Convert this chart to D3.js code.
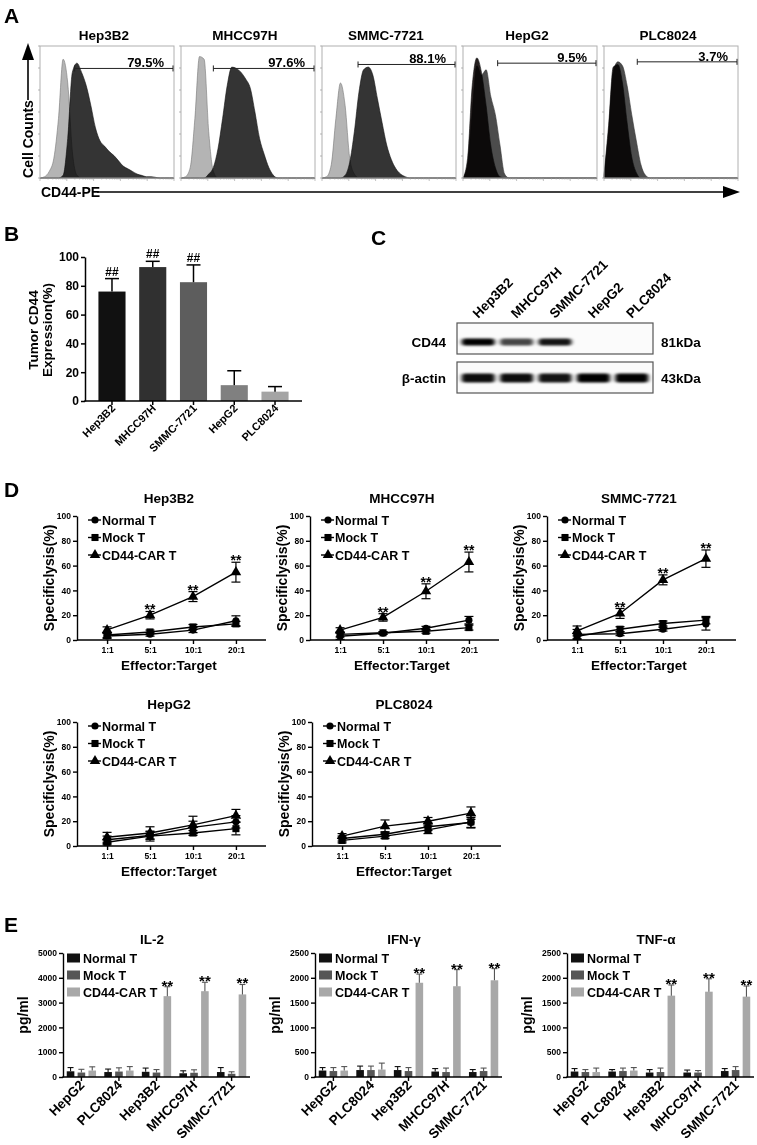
<!DOCTYPE html>
<html><head><meta charset="utf-8">
<script src="https://cdn.jsdelivr.net/npm/d3@7"></script>
<style>
body{margin:0;background:#fff;}
svg{display:block;}
</style></head><body>
<script>
// ---------------- DATA ----------------
// Panel A: flow cytometry (counts per fluorescence bin, % of max)
const flowLines = ["Hep3B2","MHCC97H","SMMC-7721","HepG2","PLC8024"];
const flowPct = ["79.5%","97.6%","88.1%","9.5%","3.7%"];
const flowGateStart = [7.5, 7.0, 7.8, 7.5, 7.2];   // bin where gate begins
const flowGateLevel = [83, 83, 86, 87, 88];        // count level of the gate marker
const flowBack = [
  [0,1,5,15,45,90,72,20,2,0],
  [0,1,8,45,92,90,35,5,0],
  [0,1,10,45,72,55,15,3,0],
  [0,10,50,85,78,82,62,48,25,3,0],
  [2,35,80,88,85,70,48,28,10,2,0]
];
const flowFront = [
  [0,0,0,0,0,2,30,80,87,80,70,55,38,28,24,20,17,13,9,7,5,3,2,1,1,0.5,0],
  [0,0,0,0,0,0,3,8,22,45,70,84,83,80,75,68,50,30,18,8,2,0],
  [0,0,0,0,0,2,12,35,65,82,84,78,60,42,25,14,7,3,1,0],
  [0,15,70,91,80,55,25,8,1,0],
  [2,40,84,86,72,42,16,4,0]
];
// Panel B
const bCats = ["Hep3B2","MHCC97H","SMMC-7721","HepG2","PLC8024"];
const bVals = [76, 93, 82.5, 11, 6.5];
const bErr = [9, 4, 12, 10, 3.5];
const bSig = ["##","##","##","",""];
// Panel C (western blot band intensities)
const blotLanes = ["Hep3B2","MHCC97H","SMMC-7721","HepG2","PLC8024"];
const cd44Intensity = [1.0, 0.72, 0.92, 0, 0];
const actinIntensity = [0.95, 0.95, 0.92, 1.0, 1.0];
// Panel D (specific lysis %)
const ratios = ["1:1","5:1","10:1","20:1"];
const lysisTargets = ["Hep3B2","MHCC97H","SMMC-7721","HepG2","PLC8024"];
const lysisNormal = [[3.2,4.6,8,15.5],[3,5.5,9.5,16],[4.5,5,8.7,13],[5,8.5,15,19.5],[6,9.5,15.5,19]];
const lysisNormalErr = [[2,1.5,2,4],[2.5,1,1.5,3],[4,1.5,1.5,5],[3,3,5,5],[2,2,3,4]];
const lysisMock = [[4,6.5,10.5,13],[4.5,5.8,7,10],[3,8.7,13.3,16],[3,8,10.5,14],[4.5,8,13,19.5]];
const lysisMockErr = [[2,1.5,2,2],[2,1,1.5,2],[2,2,2,3],[2,4,2,5],[2,2,3,5]];
const lysisCar = [[8.1,20,35,54.7],[7.9,18.2,39.3,62.9],[7.3,21.4,48.5,65.6],[7,10.5,17,24.5],[8,16,20,26.5]];
const lysisCarErr = [[2.5,3,4,8],[2,3,6,8],[4,4,4,7],[4,5,7,5],[2,5,3,5]];
const lysisSig = [["","**","**","**"],["","**","**","**"],["","**","**","**"],["","","",""],["","","",""]];
const lysisSeries = ["Normal T","Mock T","CD44-CAR T"];
// Panel E (cytokines, pg/ml)
const cytoCats = ["HepG2","PLC8024","Hep3B2","MHCC97H","SMMC-7721"];
const cytoNames = ["IL-2","IFN-γ","TNF-α"];
const cytoMax = [5000, 2500, 2500];
const cytoTicks = [[0,1000,2000,3000,4000,5000],[0,500,1000,1500,2000,2500],[0,500,1000,1500,2000,2500]];
const il2Normal = [230,200,210,150,200],  il2NormalErr = [150,120,150,100,180];
const il2Mock   = [180,220,180,170,130],  il2MockErr   = [130,150,120,120,80];
const il2Car    = [260,260,3260,3460,3330], il2CarErr  = [150,160,380,360,400];
const ifnNormal = [130,140,140,110,100],  ifnNormalErr = [60,80,70,60,50];
const ifnMock   = [120,140,120,100,120],  ifnMockErr   = [70,80,70,80,60];
const ifnCar    = [130,150,1900,1830,1950], ifnCarErr  = [80,130,175,335,235];
const tnfNormal = [110,110,90,90,120],    tnfNormalErr = [60,40,60,50,50];
const tnfMock   = [100,120,100,90,140],   tnfMockErr   = [50,60,80,40,70];
const tnfCar    = [100,130,1640,1720,1620], tnfCarErr  = [80,60,215,260,215];
const cytoSig = ["","","**","**","**"];

// ---------------- DRAWING ----------------
const FONT = '"Liberation Sans", Arial, Helvetica, sans-serif';
const svg = d3.select("body").append("svg").attr("width",757).attr("height",1145)
  .attr("font-family",FONT).attr("font-weight","bold");
svg.append("rect").attr("width",757).attr("height",1145).attr("fill","#fff");
const defs = svg.append("defs");
defs.append("filter").attr("id","blur").attr("x","-30%").attr("y","-100%").attr("width","160%").attr("height","300%")
  .append("feGaussianBlur").attr("stdDeviation","2.2 1.3");

// Panel letters
const letters = [["A",4,23],["B",4,241],["C",371,245],["D",4,497],["E",4,932]];
svg.selectAll("text.letter").data(letters).join("text").attr("class","letter")
  .attr("x",d=>d[1]).attr("y",d=>d[2]).attr("font-size",21).text(d=>d[0]);

// ---- Panel A ----
(function(){
  const NB = 30, flowW = 134, top = 46, bot = 178;
  flowLines.forEach((name,i)=>{
    const left = 40 + i*141;
    const g = svg.append("g");
    const x = d3.scaleLinear().domain([0,NB-1]).range([left,left+flowW]);
    const y = d3.scaleLinear().domain([0,100]).range([bot,top]);
    const pad = a => a.concat(d3.range(NB-a.length).map(()=>0));
    const area = d3.area().x((d,j)=>x(j)).y0(bot).y1(d=>y(d)).curve(d3.curveMonotoneX);
    const strong = i<3;
    g.append("path").attr("d",area(pad(flowBack[i])))
      .attr("fill",strong?"#b4b4b4":"#4c4c4c").attr("stroke",strong?"#777":"#333").attr("stroke-width",0.6);
    g.append("path").attr("d",area(pad(flowFront[i])))
      .attr("fill",strong?"#343434":"#262020").attr("stroke","#111").attr("stroke-width",0.6)
      .style("mix-blend-mode","multiply");
    g.append("rect").attr("x",left).attr("y",top).attr("width",flowW).attr("height",bot-top)
      .attr("fill","none").attr("stroke","#b0b0b0").attr("stroke-width",1);
    // axis ticks
    const yt = d3.scaleLinear().domain([0,6]).range([bot,top]);
    g.selectAll("line.yt").data(d3.range(0,7)).join("line")
      .attr("x1",left-2).attr("x2",left).attr("y1",d=>yt(d)).attr("y2",d=>yt(d)).attr("stroke","#999").attr("stroke-width",0.7);
    const lx = d3.scaleLog().domain([1,1e5]).range([left,left+flowW]);
    g.selectAll("line.xt").data(lx.ticks()).join("line")
      .attr("x1",d=>lx(d)).attr("x2",d=>lx(d)).attr("y1",bot).attr("y2",d=>Math.log10(d)%1===0?bot+3:bot+1.5)
      .attr("stroke","#999").attr("stroke-width",0.6);
    // gate
    const gy = y(flowGateLevel[i]), gx1 = x(flowGateStart[i]), gx2 = x(NB-1)-1;
    g.append("line").attr("x1",gx1).attr("x2",gx2).attr("y1",gy).attr("y2",gy).attr("stroke","#222").attr("stroke-width",1);
    [gx1,gx2].forEach(v=>g.append("line").attr("x1",v).attr("x2",v).attr("y1",gy-3).attr("y2",gy+3).attr("stroke","#222").attr("stroke-width",1));
    g.append("text").attr("x",gx2-9).attr("y",gy-1).attr("text-anchor","end").attr("font-size",13).text(flowPct[i]);
    g.append("text").attr("x",left+flowW/2-3).attr("y",40).attr("text-anchor","middle").attr("font-size",13.5).text(name);
  });
  // Cell Counts arrow
  svg.append("line").attr("x1",28).attr("x2",28).attr("y1",58).attr("y2",100).attr("stroke","#000").attr("stroke-width",1.6);
  svg.append("path").attr("d","M28,43 L22,60 L34,60 Z").attr("fill","#000");
  svg.append("text").attr("transform","translate(33,139) rotate(-90)").attr("text-anchor","middle").attr("font-size",14).text("Cell Counts");
  // CD44-PE arrow
  svg.append("text").attr("x",41).attr("y",197).attr("font-size",14).text("CD44-PE");
  svg.append("line").attr("x1",97).attr("x2",726).attr("y1",192).attr("y2",192).attr("stroke","#000").attr("stroke-width",1.6);
  svg.append("path").attr("d","M740,192 L723,186 L723,198 Z").attr("fill","#000");
})();

// ---- Panel B ----
(function(){
  const g = svg.append("g");
  const x = d3.scaleBand().domain(bCats).range([91.5,295.5]).paddingInner(0.335).paddingOuter(0.17);
  const y = d3.scaleLinear().domain([0,100]).range([401,257]);
  const colors = ["#111","#303030","#5d5d5d","#808080","#a4a4a4"];
  g.selectAll("rect.bar").data(bVals).join("rect")
    .attr("x",(d,i)=>x(bCats[i])).attr("width",x.bandwidth()).attr("y",d=>y(d)).attr("height",d=>401-y(d))
    .attr("fill",(d,i)=>colors[i]);
  bVals.forEach((v,i)=>{
    const cx = x(bCats[i])+x.bandwidth()/2, ty = y(v+bErr[i]);
    g.append("line").attr("x1",cx).attr("x2",cx).attr("y1",y(v)).attr("y2",ty).attr("stroke","#000").attr("stroke-width",1.5);
    g.append("line").attr("x1",cx-7).attr("x2",cx+7).attr("y1",ty).attr("y2",ty).attr("stroke","#000").attr("stroke-width",1.5);
    g.append("text").attr("x",cx).attr("y",ty-3).attr("text-anchor","middle").attr("font-size",12).text(bSig[i]);
    g.append("line").attr("x1",cx).attr("x2",cx).attr("y1",401).attr("y2",405).attr("stroke","#000").attr("stroke-width",1.5);
    g.append("text").attr("transform",`translate(${cx+4},${409}) rotate(-45)`).attr("text-anchor","end").attr("font-size",11).text(bCats[i]);
  });
  const ax = g.append("g").attr("transform","translate(85,0)")
    .call(d3.axisLeft(y).tickValues(d3.range(0,101,20)).tickSize(4).tickSizeOuter(0).tickPadding(2));
  ax.select(".domain").attr("stroke-width",1.5);
  ax.selectAll(".tick line").attr("stroke-width",1.5);
  ax.selectAll("text").attr("font-size",12).attr("font-family",FONT).attr("font-weight","bold").attr("fill","#000");
  g.append("line").attr("x1",84.25).attr("x2",302).attr("y1",401).attr("y2",401).attr("stroke","#000").attr("stroke-width",1.5);
  g.append("text").attr("transform","translate(38,330) rotate(-90)").attr("text-anchor","middle").attr("font-size",13.5).text("Tumor CD44");
  g.append("text").attr("transform","translate(52,330) rotate(-90)").attr("text-anchor","middle").attr("font-size",13.5).text("Expression(%)");
})();

// ---- Panel C ----
(function(){
  const g = svg.append("g");
  const x = d3.scaleBand().domain(blotLanes).range([459,651]);
  const boxes = [{y:323,h:31,label:"CD44",kda:"81kDa",vals:cd44Intensity,bh:7,by:342},
                 {y:362,h:31,label:"β-actin",kda:"43kDa",vals:actinIntensity,bh:9,by:378}];
  boxes.forEach(b=>{
    g.append("rect").attr("x",457).attr("y",b.y).attr("width",196).attr("height",b.h).attr("fill","#fbfbfb").attr("stroke","#555").attr("stroke-width",1.2);
    const bg = g.append("g").attr("filter","url(#blur)");
    b.vals.forEach((v,i)=>{
      if(v<=0) return;
      const cx = x(blotLanes[i])+x.bandwidth()/2;
      const w = 33;
      bg.append("rect").attr("x",cx-w/2).attr("y",b.by-b.bh/2).attr("width",w).attr("height",b.bh)
        .attr("rx",3).attr("fill","#000").attr("opacity",v);
    });
    g.append("text").attr("x",446).attr("y",b.by).attr("dy","0.35em").attr("text-anchor","end").attr("font-size",13.5).text(b.label);
    g.append("text").attr("x",661).attr("y",b.by).attr("dy","0.35em").attr("font-size",13.5).text(b.kda);
  });
  blotLanes.forEach(l=>{
    const cx = x(l)+x.bandwidth()/2;
    g.append("text").attr("transform",`translate(${cx},319) rotate(-45)`).attr("font-size",13.5).text(l);
  });
})();

// ---- Panel D ----
(function(){
  const layout = [[77,640],[310,640],[547,640],[77,846],[312,846]];
  const sym = [d3.symbolCircle, d3.symbolSquare, d3.symbolTriangle];
  const symSize = [40, 50, 48];
  const seriesVals = [lysisNormal, lysisMock, lysisCar];
  const seriesErr = [lysisNormalErr, lysisMockErr, lysisCarErr];
  lysisTargets.forEach((name,k)=>{
    const [ax,y0] = layout[k];
    const g = svg.append("g");
    const x = d3.scalePoint().domain(ratios).range([ax,ax+189]).padding(0.7);
    const y = d3.scaleLinear().domain([0,100]).range([y0,y0-124]);
    const line = d3.line().x((d,i)=>x(ratios[i])).y(d=>y(d));
    seriesVals.forEach((sv,s)=>{
      g.append("path").attr("d",line(sv[k])).attr("fill","none").attr("stroke","#000").attr("stroke-width",1.4);
    });
    seriesVals.forEach((sv,s)=>{
      sv[k].forEach((v,i)=>{
        const cx = x(ratios[i]), e = seriesErr[s][k][i];
        g.append("line").attr("x1",cx).attr("x2",cx).attr("y1",y(v-e)).attr("y2",y(v+e)).attr("stroke","#000").attr("stroke-width",1.2);
        [v-e,v+e].forEach(t=>g.append("line").attr("x1",cx-4.5).attr("x2",cx+4.5).attr("y1",y(t)).attr("y2",y(t)).attr("stroke","#000").attr("stroke-width",1.2));
        g.append("path").attr("d",d3.symbol().type(sym[s]).size(symSize[s])()).attr("transform",`translate(${cx},${y(v)})`).attr("fill","#000");
      });
    });
    // significance
    lysisCar[k].forEach((v,i)=>{
      if(!lysisSig[k][i]) return;
      g.append("text").attr("x",x(ratios[i])).attr("y",y(v+lysisCarErr[k][i])+3).attr("text-anchor","middle").attr("font-size",14).text(lysisSig[k][i]);
    });
    // axes
    const ya = g.append("g").attr("transform",`translate(${ax},0)`)
      .call(d3.axisLeft(y).tickValues(d3.range(0,101,20)).tickSize(4).tickSizeOuter(0).tickPadding(2));
    const xa = g.append("g").attr("transform",`translate(0,${y0})`)
      .call(d3.axisBottom(x).tickSize(4).tickSizeOuter(0).tickPadding(3));
    xa.select(".domain").attr("d",`M${ax},0H${ax+189}`);
    [ya,xa].forEach(a=>{
      a.select(".domain").attr("stroke-width",1.4);
      a.selectAll(".tick line").attr("stroke-width",1.4);
      a.selectAll("text").attr("font-size",8.5).attr("font-family",FONT).attr("font-weight","bold").attr("fill","#000");
    });
    g.append("text").attr("x",ax+92).attr("y",y0-137).attr("text-anchor","middle").attr("font-size",13.5).text(name);
    g.append("text").attr("x",ax+92).attr("y",y0+30).attr("text-anchor","middle").attr("font-size",13.5).text("Effector:Target");
    g.append("text").attr("transform",`translate(${ax-23},${y0-62}) rotate(-90)`).attr("text-anchor","middle").attr("font-size",14).text("Specificlysis(%)");
    // legend
    lysisSeries.forEach((s,si)=>{
      const ly = y0-124+4+si*17.5;
      g.append("line").attr("x1",ax+11).attr("x2",ax+24).attr("y1",ly).attr("y2",ly).attr("stroke","#000").attr("stroke-width",1.4);
      g.append("path").attr("d",d3.symbol().type(sym[si]).size(symSize[si])()).attr("transform",`translate(${ax+18},${ly})`).attr("fill","#000");
      g.append("text").attr("x",ax+25).attr("y",ly).attr("dy","0.36em").attr("font-size",12.5).text(s);
    });
  });
})();

// ---- Panel E ----
(function(){
  const axes = [63,315,567];
  const y0 = 1077, yTop = 953;
  const vals = [[il2Normal,il2Mock,il2Car],[ifnNormal,ifnMock,ifnCar],[tnfNormal,tnfMock,tnfCar]];
  const errs = [[il2NormalErr,il2MockErr,il2CarErr],[ifnNormalErr,ifnMockErr,ifnCarErr],[tnfNormalErr,tnfMockErr,tnfCarErr]];
  const colors = ["#111","#565656","#a8a8a8"];
  cytoNames.forEach((name,k)=>{
    const ax = axes[k];
    const g = svg.append("g");
    const x0 = d3.scaleBand().domain(cytoCats).range([ax,ax+187]).paddingInner(0.22).paddingOuter(0.1);
    const x1 = d3.scaleBand().domain(lysisSeries).range([0,x0.bandwidth()]).paddingInner(0.3);
    const y = d3.scaleLinear().domain([0,cytoMax[k]]).range([y0,yTop]);
    lysisSeries.forEach((s,si)=>{
      vals[k][si].forEach((v,i)=>{
        const bx = x0(cytoCats[i])+x1(s), cx = bx+x1.bandwidth()/2, e = errs[k][si][i];
        g.append("rect").attr("x",bx).attr("width",x1.bandwidth()).attr("y",y(v)).attr("height",y0-y(v)).attr("fill",colors[si]);
        g.append("line").attr("x1",cx).attr("x2",cx).attr("y1",y(v)).attr("y2",y(v+e)).attr("stroke",si==2?"#555":colors[si]).attr("stroke-width",1.1);
        g.append("line").attr("x1",cx-3).attr("x2",cx+3).attr("y1",y(v+e)).attr("y2",y(v+e)).attr("stroke",si==2?"#555":colors[si]).attr("stroke-width",1.1);
        if(si==2 && cytoSig[i])
          g.append("text").attr("x",cx).attr("y",y(v+e)+4).attr("text-anchor","middle").attr("font-size",15).text(cytoSig[i]);
      });
    });
    const ya = g.append("g").attr("transform",`translate(${ax},0)`)
      .call(d3.axisLeft(y).tickValues(cytoTicks[k]).tickFormat(d3.format("d")).tickSize(4).tickSizeOuter(0).tickPadding(2));
    ya.select(".domain").attr("stroke-width",1.4);
    ya.selectAll(".tick line").attr("stroke-width",1.4);
    ya.selectAll("text").attr("font-size",8.5).attr("font-family",FONT).attr("font-weight","bold").attr("fill","#000");
    g.append("line").attr("x1",ax-0.7).attr("x2",ax+187).attr("y1",y0).attr("y2",y0).attr("stroke","#000").attr("stroke-width",1.4);
    cytoCats.forEach(c=>{
      const cx = x0(c)+x0.bandwidth()/2;
      g.append("line").attr("x1",cx).attr("x2",cx).attr("y1",y0).attr("y2",y0+4).attr("stroke","#000").attr("stroke-width",1.4);
      g.append("text").attr("transform",`translate(${cx+4},${y0+9}) rotate(-45)`).attr("text-anchor","end").attr("font-size",13.5).text(c);
    });
    g.append("text").attr("x",ax+89).attr("y",yTop-9).attr("text-anchor","middle").attr("font-size",13.5).text(name);
    g.append("text").attr("transform",`translate(${ax-35},${(y0+yTop)/2}) rotate(-90)`).attr("text-anchor","middle").attr("font-size",14).text("pg/ml");
    lysisSeries.forEach((s,si)=>{
      const ly = yTop+5+si*17;
      g.append("rect").attr("x",ax+4).attr("y",ly-4.5).attr("width",13).attr("height",9).attr("fill",colors[si]);
      g.append("text").attr("x",ax+20).attr("y",ly).attr("dy","0.36em").attr("font-size",12.5).text(s);
    });
  });
})();
</script></body></html>
